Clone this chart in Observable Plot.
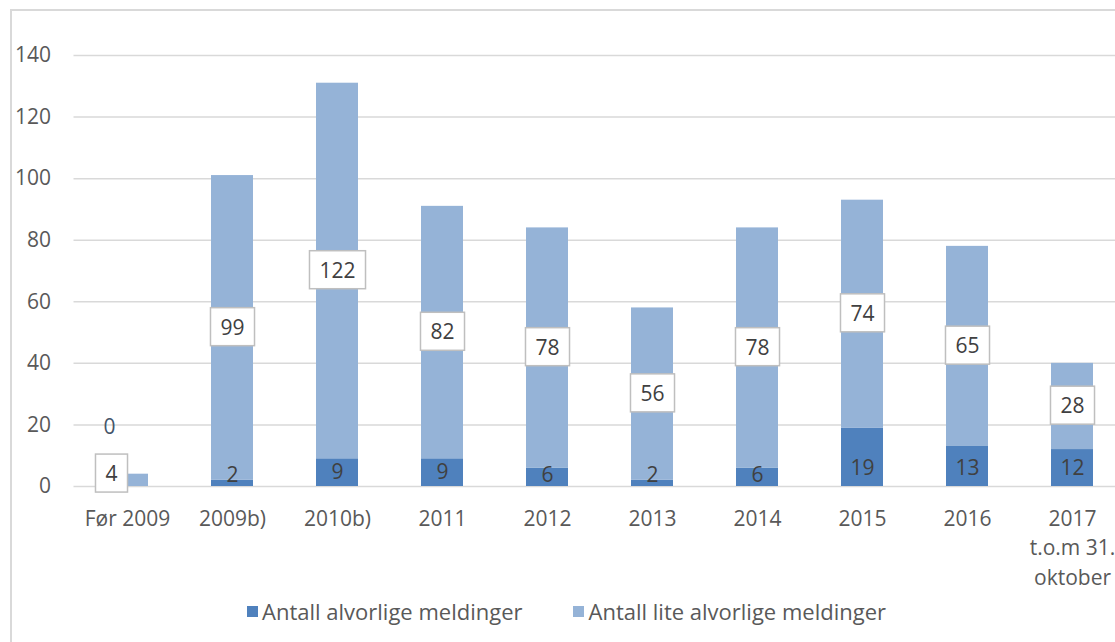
<!DOCTYPE html>
<html>
<head>
<meta charset="utf-8">
<script src="https://cdn.jsdelivr.net/npm/d3@7"></script>
<script src="https://cdn.jsdelivr.net/npm/@observablehq/plot@0.6"></script>
<style>
  html, body { margin: 0; padding: 0; background: #fff; overflow: hidden; }
  #wrap { position: relative; width: 1115px; height: 642px; font-family: "Open Sans", sans-serif; }
  #frame { position: absolute; left: 10px; top: 9px; width: 2000px; height: 2000px;
           border-left: 2px solid #d9d9d9; border-top: 2px solid #d9d9d9; pointer-events: none; }
  #chart svg { display: block; }
  #legend { position: absolute; left: 0; top: 596px; width: 1115px; height: 30px; line-height: 30px;
            box-sizing: border-box; padding-left: 18px;
            display: flex; justify-content: center; gap: 51px; font-size: 22px; color: #595959; }
  #legend span.item { display: flex; align-items: center; }
  #legend i { display: inline-block; width: 11px; height: 11px; margin-right: 4px; }
</style>
</head>
<body>
<div id="wrap">
  <div id="chart"></div>
  <div id="legend"></div>
  <div id="frame"></div>
</div>
<script>
const categories = ["Før 2009", "2009b)", "2010b)", "2011", "2012", "2013", "2014", "2015", "2016", "2017\nt.o.m 31.\noktober"];
const serious = [0, 2, 9, 9, 6, 2, 6, 19, 13, 12];
const minor = [4, 99, 122, 82, 78, 56, 78, 74, 65, 28];
const seriesNames = ["Antall alvorlige meldinger", "Antall lite alvorlige meldinger"];
const seriesColors = ["#4F81BD", "#95B3D7"];
const yTicks = [0, 20, 40, 60, 80, 100, 120, 140];

const data = [];
categories.forEach((c, i) => {
  data.push({cat: c, series: seriesNames[0], value: serious[i]});
  data.push({cat: c, series: seriesNames[1], value: minor[i]});
});
const darkLabels = categories.map((c, i) => ({cat: c, value: serious[i], i}));
const lightLabels = categories.map((c, i) => ({cat: c, value: minor[i], base: serious[i], i}));
const BOXED = "#404041"; // fill used to identify boxed labels

const chart = Plot.plot({
  width: 1115,
  height: 596,
  marginLeft: 73.5,
  marginRight: -9.5,
  marginTop: 55,
  marginBottom: 110,
  style: {fontFamily: "'Open Sans', sans-serif", fontSize: "21px", color: "#595959", background: "transparent"},
  x: {domain: categories, paddingInner: 0.6, paddingOuter: 0.3, axis: null},
  y: {domain: [0, 140], axis: null},
  color: {domain: seriesNames, range: seriesColors},
  marks: [
    Plot.ruleY(yTicks, {stroke: "#d9d9d9", strokeWidth: 1.5}),
    Plot.barY(data, {x: "cat", y: "value", fill: "series"}),
    Plot.axisY({ticks: yTicks, tickSize: 0, tickPadding: 23, label: null, fill: "#595959"}),
    Plot.axisX({tickSize: 0, tickPadding: 18, label: null, lineHeight: 1.41, fill: "#595959"}),
    Plot.text(darkLabels.filter(d => d.i > 0), {
      x: "cat", y: d => Math.min(Math.max(d.value / 2, 3.5), 6), text: d => String(d.value), fill: "#404040"
    }),
    Plot.text(darkLabels.filter(d => d.i === 0), {
      x: "cat", y: d => d.value / 2, text: d => String(d.value), fill: "#44546A", dx: -18, dy: -59
    }),
    Plot.text(lightLabels.filter(d => d.i > 0), {
      x: "cat", y: d => d.base + d.value / 2, text: d => String(d.value), fill: BOXED
    }),
    Plot.text(lightLabels.filter(d => d.i === 0), {
      x: "cat", y: d => d.base + d.value / 2, text: d => String(d.value), fill: BOXED, dx: -16, dy: -6
    })
  ]
});
document.getElementById("chart").append(chart);

// white boxes behind the light-series labels
const NS = "http://www.w3.org/2000/svg";
chart.querySelectorAll("text").forEach(t => {
  const f = (t.getAttribute("fill") || t.parentNode.getAttribute("fill") || "").toLowerCase();
  if (f !== BOXED) return;
  const b = t.getBBox();
  const r = document.createElementNS(NS, "rect");
  const w = b.width + 20, h = 38;
  r.setAttribute("x", b.x + b.width / 2 - w / 2);
  r.setAttribute("y", b.y + b.height / 2 - h / 2);
  r.setAttribute("width", w);
  r.setAttribute("height", h);
  r.setAttribute("fill", "#fff");
  r.setAttribute("stroke", "#bfbfbf");
  r.setAttribute("stroke-width", 1.5);
  if (t.getAttribute("transform")) r.setAttribute("transform", t.getAttribute("transform"));
  t.parentNode.insertBefore(r, t);
});

const legend = document.getElementById("legend");
seriesNames.forEach((name, k) => {
  const item = document.createElement("span");
  item.className = "item";
  const sw = document.createElement("i");
  sw.style.background = seriesColors[k];
  item.append(sw, document.createTextNode(name));
  legend.append(item);
});
</script>
</body>
</html>
